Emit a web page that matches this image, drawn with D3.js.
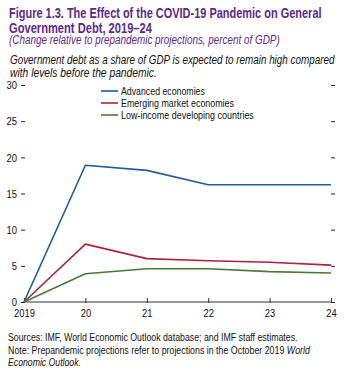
<!DOCTYPE html>
<html>
<head>
<meta charset="utf-8">
<script src="https://cdn.jsdelivr.net/npm/d3@7"></script>
<style>
  body { margin: 0; background: #fff; }
  svg { display: block; font-family: "Liberation Sans", Arial, sans-serif; }
</style>
</head>
<body>
<div id="chart"></div>
<script>
const years = ['2019', '20', '21', '22', '23', '24'];
const yTicks = [0, 5, 10, 15, 20, 25, 30];
const seriesNames = ['Advanced economies', 'Emerging market economies', 'Low-income developing countries'];
const advanced = [0, 18.9, 18.2, 16.2, 16.2, 16.2];
const emerging = [0, 8.0, 6.0, 5.7, 5.5, 5.1];
const lowIncome = [0, 3.9, 4.6, 4.6, 4.2, 4.0];
const colors = ['#1f5c99', '#b0223a', '#4b7a36'];

const width = 351, height = 373;
const svg = d3.select('#chart').append('svg')
  .attr('width', width).attr('height', height);

const x = d3.scalePoint().domain(years).range([24, 331]);
const y = d3.scaleLinear().domain([0, 30]).range([302, 85]);

// no narrow font installed: squeeze each text horizontally with a transform
function narrowText(parent, xp, yp, len, attrs) {
  const t = parent.append('text').attr('x', 0).attr('y', 0);
  Object.entries(attrs || {}).forEach(([k, v]) => t.attr(k, v));
  return {
    t,
    fit() {
      const w = t.node().getComputedTextLength();
      t.attr('transform', `translate(${xp},${yp}) scale(${len / w},1)`);
      return t;
    }
  };
}
function txt(xp, yp, str, len, attrs) {
  const n = narrowText(svg, xp, yp, len, attrs);
  n.t.text(str);
  return n.fit();
}
function squeezeTicks(sel, factor) {
  sel.each(function() {
    const s = d3.select(this);
    const tx = +s.attr('x') || 0;
    s.attr('x', 0).attr('transform', `translate(${tx},0) scale(${factor},1)`);
  });
}

// titles
const purple = '#5b2a86';
txt(9, 18, 'Figure 1.3. The Effect of the COVID-19 Pandemic on General', 313,
  { fill: purple, 'font-weight': 'bold', 'font-size': 15 });
txt(9, 32.5, 'Government Debt, 2019–24', 143,
  { fill: purple, 'font-weight': 'bold', 'font-size': 15 });
txt(9, 44, '(Change relative to prepandemic projections, percent of GDP)', 271,
  { fill: purple, 'font-style': 'italic', 'font-size': 12 });
txt(10, 64, 'Government debt as a share of GDP is expected to remain high compared', 325,
  { fill: '#111', 'font-style': 'italic', 'font-size': 12.5 });
txt(10, 76.5, 'with levels before the pandemic.', 147,
  { fill: '#111', 'font-style': 'italic', 'font-size': 12.5 });

// left axis: labels with dash ticks, no domain line
const left = svg.append('g').attr('transform', 'translate(25,0)')
  .call(d3.axisLeft(y).tickValues(yTicks).tickSize(4).tickPadding(4));
left.select('.domain').remove();
left.selectAll('.tick line').attr('stroke', '#222');
left.selectAll('.tick text').attr('font-size', 11.5).attr('fill', '#111')
  .attr('font-family', '"Liberation Sans", sans-serif');
squeezeTicks(left.selectAll('.tick text'), 0.82);

// right axis: dash ticks only
const right = svg.append('g').attr('transform', 'translate(331,0)')
  .call(d3.axisRight(y).tickValues(yTicks).tickSize(4).tickFormat(''));
right.select('.domain').remove();
right.selectAll('.tick line').attr('stroke', '#222');

// bottom axis
const bottom = svg.append('g').attr('transform', `translate(0,${y(0)})`)
  .call(d3.axisBottom(x).tickSize(-4).tickPadding(7));
bottom.select('.domain').attr('stroke', '#333').attr('d', `M${x('2019')},0H${x('24') + 1}`);
bottom.selectAll('.tick line').attr('stroke', '#333').attr('y1', 1);
bottom.selectAll('.tick text').attr('font-size', 11.5).attr('fill', '#111')
  .attr('font-family', '"Liberation Sans", sans-serif');
squeezeTicks(bottom.selectAll('.tick text'), 0.82);

// lines
const line = d3.line().x((d, i) => x(years[i])).y(d => y(d));
[advanced, emerging, lowIncome].forEach((s, k) => {
  svg.append('path').datum(s)
    .attr('fill', 'none').attr('stroke', colors[k]).attr('stroke-width', 1.6)
    .attr('stroke-linejoin', 'round')
    .attr('d', line);
});

// legend
const legendW = [84, 113, 133];
const legend = svg.append('g').attr('transform', 'translate(101,91)');
seriesNames.forEach((n, i) => {
  const g = legend.append('g').attr('transform', `translate(0,${i * 12})`);
  g.append('line').attr('x1', 0).attr('x2', 17).attr('stroke', colors[i]).attr('stroke-width', 1.6);
  const nt = narrowText(g, 20, 4, legendW[i], { 'font-size': 11.5, fill: '#111' });
  nt.t.text(n);
  nt.fit();
});

// footer
txt(8, 341, 'Sources: IMF, World Economic Outlook database; and IMF staff estimates.', 290,
  { fill: '#111', 'font-size': 11.5 });
const note = narrowText(svg, 8, 353.5, 302, { fill: '#111', 'font-size': 11.5 });
note.t.append('tspan').text('Note: Prepandemic projections refer to projections in the October 2019 ');
note.t.append('tspan').attr('font-style', 'italic').text('World');
note.fit();
txt(8, 366, 'Economic Outlook.', 73, { fill: '#111', 'font-size': 11.5, 'font-style': 'italic' });
</script>
</body>
</html>
